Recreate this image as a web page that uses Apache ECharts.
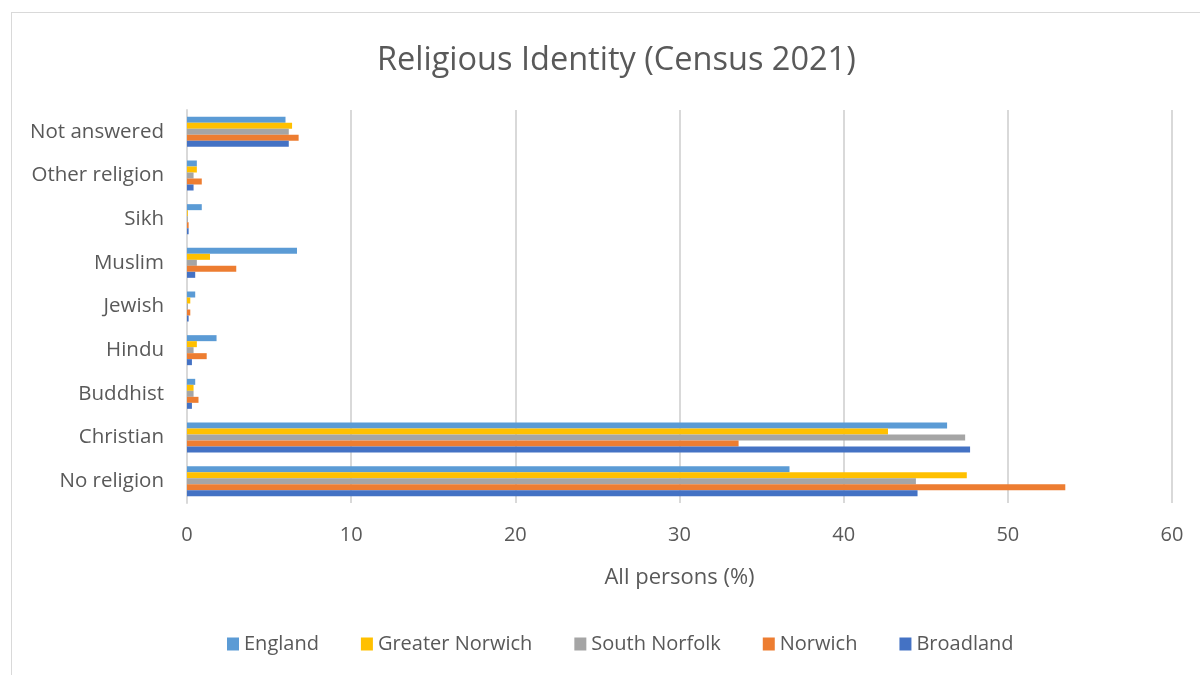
<!DOCTYPE html>
<html>
<head>
<meta charset="utf-8">
<script src="https://cdn.jsdelivr.net/npm/echarts@6/dist/echarts.min.js"></script>
<style>
html,body{margin:0;padding:0;background:#fff;}
#frame{position:absolute;left:11px;top:12px;width:1200px;height:700px;border:1px solid #d9d9d9;box-sizing:border-box;}
#chart{position:absolute;left:0;top:0;width:1200px;height:675px;}
</style>
</head>
<body>
<div id="frame"></div>
<div id="chart"></div>
<script>
const categories = ['No religion','Christian','Buddhist','Hindu','Jewish','Muslim','Sikh','Other religion','Not answered'];
const england        = [36.7, 46.3, 0.5, 1.8, 0.5, 6.7, 0.9, 0.6, 6.0];
const greaterNorwich = [47.5, 42.7, 0.4, 0.6, 0.2, 1.4, 0.05, 0.6, 6.4];
const southNorfolk   = [44.4, 47.4, 0.4, 0.4, 0.05, 0.6, 0.05, 0.4, 6.2];
const norwich        = [53.5, 33.6, 0.7, 1.2, 0.2, 3.0, 0.1, 0.9, 6.8];
const broadland      = [44.5, 47.7, 0.3, 0.3, 0.1, 0.5, 0.1, 0.4, 6.2];
const xTicks = [0,10,20,30,40,50,60];

const FONT = '"Open Sans", sans-serif';
const chart = echarts.init(document.getElementById('chart'));
function s(name, data, color){
  return {name, type:'bar', data, itemStyle:{color}, barWidth:6, barGap:'0%'};
}
chart.setOption({
  animation:false,
  textStyle:{fontFamily:FONT, color:'#595959'},
  title:{text:'Religious Identity (Census 2021)', left:372, top:39,
    textStyle:{fontFamily:FONT, fontSize:32.5, fontWeight:'normal', color:'#595959'}},
  legend:{
    data:['England','Greater Norwich','South Norfolk','Norwich','Broadland'],
    bottom:16, left:222, itemWidth:12, itemHeight:13, itemGap:42,
    icon:'rect',
    textStyle:{fontFamily:FONT, fontSize:20, color:'#595959'}
  },
  grid:{left:187, right:28, top:110, bottom:172},
  xAxis:{type:'value', min:0, max:60, interval:10,
    axisLine:{show:false}, axisTick:{show:false},
    axisLabel:{fontSize:20, color:'#595959', margin:22, fontFamily:FONT},
    splitLine:{lineStyle:{color:'#d9d9d9', width:2}},
    name:'All persons (%)', nameLocation:'middle', nameGap:64,
    nameTextStyle:{fontSize:22, color:'#595959', fontFamily:FONT}
  },
  yAxis:{type:'category', data:categories,
    axisLine:{lineStyle:{color:'#d9d9d9', width:2}}, axisTick:{show:false},
    axisLabel:{fontSize:20.5, color:'#595959', margin:23, fontFamily:FONT}
  },
  series:[
    s('England', england, '#5B9BD5'),
    s('Greater Norwich', greaterNorwich, '#FFC000'),
    s('South Norfolk', southNorfolk, '#A5A5A5'),
    s('Norwich', norwich, '#ED7D31'),
    s('Broadland', broadland, '#4472C4')
  ]
});
</script>
</body>
</html>
